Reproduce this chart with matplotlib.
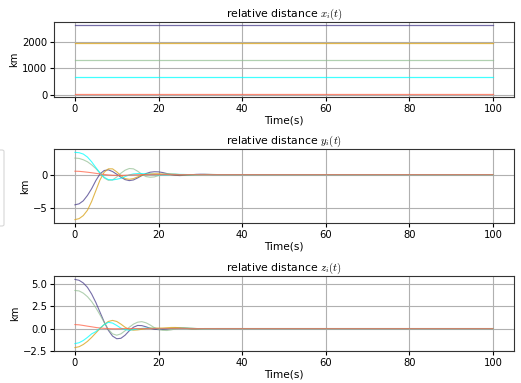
import matplotlib
matplotlib.use("Agg")
import matplotlib.pyplot as plt
from matplotlib.patches import FancyBboxPatch

plt.rcParams['mathtext.fontset'] = 'cm'
plt.rcParams['font.size'] = 7

# time samples (s)
t = list(range(0, 37)) + [100]

colors = ["darkslateblue", "goldenrod", "darkseagreen", "cyan", "tomato"]
alphas = [0.75, 0.8, 0.7, 0.75, 0.75]

# relative distance x_i(t), km (constant over the run)
x_const = [2610, 1950, 1320, 690, 55]
x_t = [0, 100]

# relative distance y_i(t), km
y_purple = [-4.5, -4.35, -3.9, -3.1, -2.1, -0.9, 0.1, 0.6, 0.7, 0.45, 0.05, -0.4, -0.75, -0.9, -0.8,
            -0.5, -0.15, 0.15, 0.35, 0.42, 0.4, 0.3, 0.15, 0.0, -0.1, -0.15, -0.12, -0.08, -0.02,
            0.03, 0.05, 0.04, 0.02, 0.0, 0.0, 0.0, 0.0, 0.0]
y_orange = [-6.7, -6.55, -6.1, -5.3, -4.0, -2.4, -0.8, 0.35, 0.85, 0.85, 0.4, -0.15, -0.6, -0.7, -0.6,
            -0.35, -0.1, 0.05, 0.1, 0.12, 0.12, 0.08, 0.03, 0.0, -0.03, -0.05, -0.04, -0.02, 0.0,
            0.0, 0.0, 0.0, 0.0, 0.0, 0.0, 0.0, 0.0, 0.0]
y_green = [2.45, 2.4, 2.2, 1.9, 1.45, 0.9, 0.2, -0.5, -0.85, -0.8, -0.35, 0.2, 0.65, 0.9, 0.85,
           0.5, 0.05, -0.3, -0.4, -0.35, -0.15, 0.05, 0.15, 0.15, 0.1, 0.0, -0.05, -0.1, -0.1,
           -0.05, 0.0, 0.03, 0.03, 0.02, 0.0, 0.0, 0.0, 0.0]
y_cyan = [3.3, 3.25, 3.05, 2.6, 1.9, 1.05, 0.25, -0.4, -0.75, -0.8, -0.7, -0.55, -0.3, -0.05, 0.1,
          0.15, 0.15, 0.1, 0.05, 0.0, -0.05, -0.05, -0.05, 0.0, 0.03, 0.03, 0.02, 0.0, -0.01,
          0.0, 0.0, 0.0, 0.0, 0.0, 0.0, 0.0, 0.0, 0.0]
y_red = [0.5, 0.48, 0.42, 0.35, 0.27, 0.18, 0.1, 0.02, -0.05, -0.1, -0.12, -0.12, -0.1, -0.07, -0.04,
         -0.02, 0.0, 0.0, 0.0, 0.0, 0.0, 0.0, 0.0, 0.0, 0.0, 0.0, 0.0, 0.0, 0.0,
         0.0, 0.0, 0.0, 0.0, 0.0, 0.0, 0.0, 0.0, 0.0]

# relative distance z_i(t), km
z_purple = [5.55, 5.45, 5.15, 4.65, 3.9, 2.95, 1.85, 0.75, -0.2, -0.85, -1.15, -1.1, -0.75, -0.25, 0.15,
            0.35, 0.33, 0.2, 0.03, -0.08, -0.12, -0.1, -0.05, 0.01, 0.05, 0.06, 0.04, 0.01, -0.02,
            -0.02, -0.01, 0.0, 0.0, 0.0, 0.0, 0.0, 0.0, 0.0]
z_orange = [-2.15, -2.05, -1.8, -1.45, -1.0, -0.5, 0.0, 0.45, 0.8, 0.92, 0.8, 0.5, 0.15, -0.1, -0.18,
            -0.15, -0.08, 0.0, 0.05, 0.06, 0.05, 0.06, 0.09, 0.12, 0.12, 0.1, 0.05, 0.0, -0.03,
            -0.03, -0.01, 0.0, 0.0, 0.0, 0.0, 0.0, 0.0, 0.0]
z_green = [4.3, 4.25, 4.0, 3.6, 3.05, 2.35, 1.55, 0.7, -0.1, -0.6, -0.75, -0.6, -0.25, 0.15, 0.5,
           0.72, 0.78, 0.65, 0.4, 0.1, -0.1, -0.2, -0.22, -0.15, -0.05, 0.05, 0.1, 0.1, 0.06,
           0.01, -0.03, -0.04, -0.03, -0.01, 0.0, 0.0, 0.0, 0.0]
z_cyan = [-1.7, -1.6, -1.35, -1.0, -0.6, -0.35, 0.05, 0.45, 0.7, 0.62, 0.35, 0.05, -0.12, -0.18, -0.12,
          -0.04, 0.02, 0.04, 0.03, 0.01, 0.0, 0.0, 0.0, 0.0, 0.0, 0.0, 0.0, 0.0, 0.0,
          0.0, 0.0, 0.0, 0.0, 0.0, 0.0, 0.0, 0.0, 0.0]
z_red = [0.45, 0.42, 0.35, 0.27, 0.2, 0.12, 0.06, 0.02, 0.0, -0.02, -0.02, -0.01, 0.0, 0.0, 0.0,
         0.0, 0.0, 0.0, 0.0, 0.0, 0.0, 0.0, 0.0, 0.0, 0.0, 0.0, 0.0, 0.0, 0.0,
         0.0, 0.0, 0.0, 0.0, 0.0, 0.0, 0.0, 0.0, 0.0]

y_series = [y_purple, y_orange, y_green, y_cyan, y_red]
z_series = [z_purple, z_orange, z_green, z_cyan, z_red]

fig = plt.figure(figsize=(5.21, 3.83), dpi=100)
L, W = 54 / 521, 460 / 521
ax1 = fig.add_axes([L, 1 - 97 / 383, W, 75 / 383])
ax2 = fig.add_axes([L, 1 - 223 / 383, W, 74 / 383])
ax3 = fig.add_axes([L, 1 - 351 / 383, W, 75 / 383])

for i in range(5):
    ax1.plot(x_t, [x_const[i], x_const[i]], color=colors[i], alpha=alphas[i], lw=0.9)
    ax2.plot(t, y_series[i], color=colors[i], alpha=alphas[i], lw=0.8)
    ax3.plot(t, z_series[i], color=colors[i], alpha=alphas[i], lw=0.8)

titles = [r"relative distance $x_i(t)$", r"relative distance $y_i(t)$", r"relative distance $z_i(t)$"]
for ax, ttl in zip([ax1, ax2, ax3], titles):
    ax.set_title(ttl, fontsize=7.8, pad=3)
    ax.set_xlabel("Time(s)", fontsize=7.6, labelpad=1)
    ax.set_ylabel("km", fontsize=7.2, labelpad=2)
    ax.grid(True, color="#b0b0b0", lw=0.8)
    ax.set_xlim(-5, 105)
    ax.set_xticks([0, 20, 40, 60, 80, 100])
    ax.tick_params(labelsize=7.2, length=3, pad=1.8)
    for s in ax.spines.values():
        s.set_color("#333333")
        s.set_linewidth(0.8)

ax2.set_yticks([-5, 0])
ax3.set_yticks([-2.5, 0.0, 2.5, 5.0])

# edge of a legend frame that lies off the left border of the figure
frame = FancyBboxPatch((-60 / 521, 1 - 226 / 383), 64 / 521, 76 / 383,
                       boxstyle="round,pad=0,rounding_size=0.004",
                       transform=fig.transFigure, facecolor="white",
                       edgecolor="#cccccc", lw=0.8, alpha=0.8)
fig.patches.append(frame)

fig.savefig("out.png", dpi=100)
